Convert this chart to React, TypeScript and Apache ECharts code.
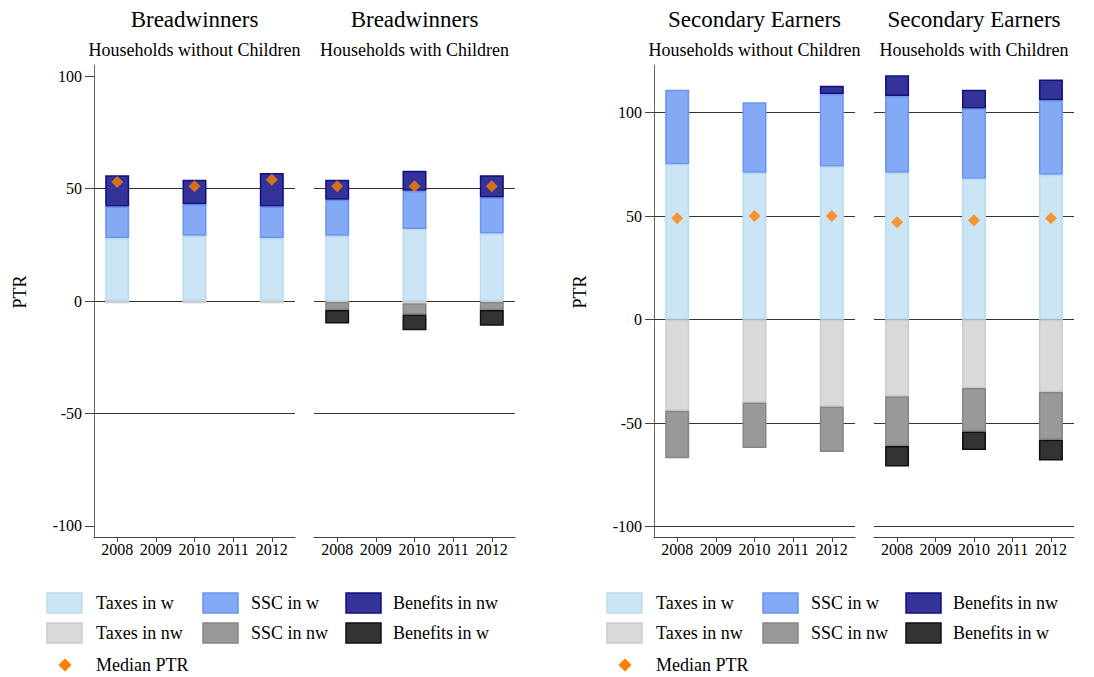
import React, { useEffect, useRef } from "react";
import * as echarts from "echarts";

// ---- data ----
const years = [2008, 2009, 2010, 2011, 2012];
const barYears = [2008, 2010, 2012];
const facetTitles = ["Breadwinners", "Breadwinners", "Secondary Earners", "Secondary Earners"];
const facetSubtitles = [
  "Households without Children",
  "Households with Children",
  "Households without Children",
  "Households with Children",
];
const seriesNames = ["Taxes in w", "SSC in w", "Benefits in nw", "Taxes in nw", "SSC in nw", "Benefits in w"];
// one row per facet, one value per bar year (2008, 2010, 2012)
const taxesInW = [[28, 29, 28], [29, 32, 30], [75, 71, 74], [71, 68, 70]];
const sscInW = [[14, 14, 14], [16, 17, 16], [36, 34, 35], [37, 34, 36]];
const benefitsInNw = [[14, 11, 15], [9, 9, 10], [0, 0, 4], [10, 9, 10]];
const taxesInNw = [[-1, -1, -1], [-0.5, -1, -0.5], [-44, -40, -42], [-37, -33, -35]];
const sscInNw = [[0, 0, 0], [-3.5, -5, -3.5], [-23, -22, -22], [-24, -21, -23]];
const benefitsInW = [[0, 0, 0], [-6, -7, -7], [0, 0, 0], [-10, -9, -10]];
const medianPTR = [[53, 51, 54], [51, 51, 51], [49, 50, 50], [47, 48, 49]];
const yTicks = [-100, -50, 0, 50, 100];
const gridLinesLeft = [-50, 0, 50];
const gridLinesRight = [-100, -50, 0, 50, 100];
const yTitle = "PTR";
const medianName = "Median PTR";

// ---- styles ----
const FONT = '"Liberation Serif", "Times New Roman", serif';
const fills = ["#cce5f5", "#84a9f5", "#333399", "#d9d9d9", "#999999", "#333333"];
const strokes = ["#b9dbf2", "#6a94f0", "#10107f", "#cccccc", "#858585", "#111111"];
const gridPos = [
  { left: 94, width: 201 },
  { left: 314, width: 201 },
  { left: 654, width: 201 },
  { left: 874, width: 200 },
];
const TOP = 65;
const HEIGHT = 472;

export default function App() {
  const ref = useRef<HTMLDivElement>(null);
  useEffect(() => {
    if (!ref.current) return;
    const chart = echarts.init(ref.current, undefined, { renderer: "svg" });
    const values = [taxesInW, sscInW, benefitsInNw, taxesInNw, sscInNw, benefitsInW];

    const grid = gridPos.map((g) => ({ left: g.left, top: TOP, width: g.width, height: HEIGHT }));
    const xAxis = gridPos.map((_, i) => ({
      type: "value",
      gridIndex: i,
      min: 2007.4,
      max: 2012.6,
      axisLine: { show: true, onZero: false, lineStyle: { color: "#444", width: 1 } },
      axisTick: { show: true, customValues: years, length: 5, lineStyle: { color: "#444" } },
      axisLabel: {
        customValues: years,
        formatter: (v: number) => String(Math.round(v)),
        margin: 4,
        fontSize: 16,
        color: "#000",
        fontFamily: FONT,
      },
      splitLine: { show: false },
    }));
    const yAxis = gridPos.map((_, i) => {
      const showAxis = i === 0 || i === 2;
      return {
        type: "value",
        gridIndex: i,
        min: -105,
        max: i < 2 ? 105 : 123,
        axisLine: { show: showAxis, lineStyle: { color: "#666", width: 1 } },
        axisTick: { show: showAxis, customValues: yTicks, length: 9, lineStyle: { color: "#444" } },
        axisLabel: {
          show: showAxis,
          customValues: yTicks,
          margin: 12,
          fontSize: 16,
          color: "#000",
          fontFamily: FONT,
        },
        splitLine: { show: false },
      };
    });

    const series: any[] = [];
    gridPos.forEach((_, i) => {
      values.forEach((arr, k) => {
        series.push({
          type: "bar",
          name: seriesNames[k],
          xAxisIndex: i,
          yAxisIndex: i,
          stack: "s" + i,
          barWidth: 24,
          z: 10,
          silent: true,
          encode: { x: 1, y: 0 },
          itemStyle: { color: fills[k], borderColor: strokes[k], borderWidth: 1.5 },
          data: barYears.map((y, j) => [arr[i][j] === 0 ? "-" : arr[i][j], y]),
        });
      });
      series.push({
        type: "scatter",
        name: medianName,
        xAxisIndex: i,
        yAxisIndex: i,
        symbol: "diamond",
        symbolSize: 12,
        z: 12,
        silent: true,
        itemStyle: { color: "#ff7f00" },
        data: barYears.map((y, j) => [y, medianPTR[i][j]]),
        markLine: {
          silent: true,
          symbol: "none",
          label: { show: false },
          lineStyle: { color: "#333", width: 1, type: "solid" },
          emphasis: { disabled: true },
          data: (i < 2 ? gridLinesLeft : gridLinesRight).map((v) => ({ yAxis: v })),
        },
      });
    });

    const graphic: any[] = [];
    gridPos.forEach((g, i) => {
      const cx = g.left + g.width / 2;
      graphic.push({
        type: "text",
        x: cx,
        y: 19.5,
        style: { text: facetTitles[i], fontSize: 23, fontFamily: FONT, fill: "#000", align: "center", verticalAlign: "middle" },
      });
      graphic.push({
        type: "text",
        x: cx,
        y: 50,
        style: { text: facetSubtitles[i], fontSize: 18, fontFamily: FONT, fill: "#000", align: "center", verticalAlign: "middle" },
      });
    });
    [0, 560].forEach((off) => {
      graphic.push({
        type: "text",
        x: 20 + off,
        y: 292,
        rotation: Math.PI / 2,
        style: { text: yTitle, fontSize: 18, fontFamily: FONT, fill: "#000", align: "center", verticalAlign: "middle" },
      });
      const colSw = [47, 203, 346];
      const colTx = [96, 251, 393];
      const rowY = [603, 633];
      seriesNames.forEach((name, k) => {
        const r = Math.floor(k / 3);
        const c = k % 3;
        graphic.push({
          type: "rect",
          shape: { x: colSw[c] + off, y: rowY[r] - 10, width: 35, height: 20 },
          style: { fill: fills[k], stroke: strokes[k], lineWidth: 1.5 },
        });
        graphic.push({
          type: "text",
          x: colTx[c] + off,
          y: rowY[r],
          style: { text: name, fontSize: 18, fontFamily: FONT, fill: "#000", align: "left", verticalAlign: "middle" },
        });
      });
      const dx = 65 + off;
      const dy = 665;
      graphic.push({
        type: "polygon",
        shape: { points: [[dx, dy - 6.5], [dx + 6.5, dy], [dx, dy + 6.5], [dx - 6.5, dy]] },
        style: { fill: "#ff7f00" },
      });
      graphic.push({
        type: "text",
        x: colTx[0] + off,
        y: dy,
        style: { text: medianName, fontSize: 18, fontFamily: FONT, fill: "#000", align: "left", verticalAlign: "middle" },
      });
    });

    chart.setOption({
      animation: false,
      backgroundColor: "#fff",
      textStyle: { fontFamily: FONT },
      grid,
      xAxis,
      yAxis,
      series,
      graphic,
    });
    return () => chart.dispose();
  }, []);
  return <div ref={ref} style={{ position: "absolute", left: 0, top: 0, width: 1094, height: 677 }} />;
}
